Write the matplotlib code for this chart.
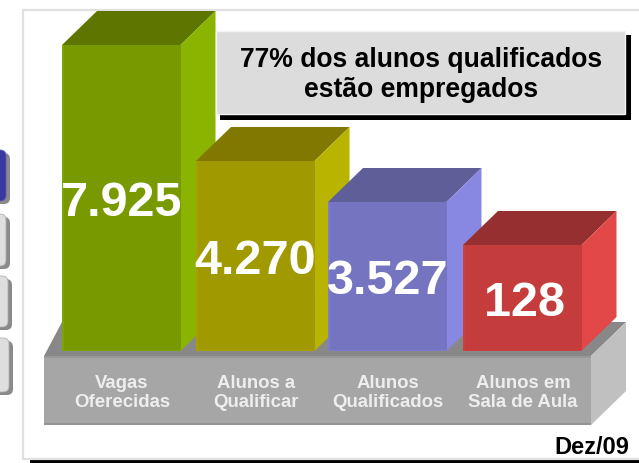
import matplotlib
matplotlib.use("Agg")
import matplotlib.pyplot as plt
from matplotlib.patches import Polygon, Rectangle, FancyBboxPatch

W, H = 639, 463
# Data
categories = ["Vagas\nOferecidas", "Alunos a\nQualificar", "Alunos\nQualificados", "Alunos em\nSala de Aula"]
value_labels = ["7.925", "4.270", "3.527", "128"]
bar_heights = [306, 190, 149, 106]      # drawn heights (not proportional)
callout = "77% dos alunos qualificados\nestão empregados"
period = "Dez/09"

# Styles
bar_left = [62, 196, 328, 463]
bar_width = 118.5
depth_x, depth_y = 35, 34
baseline = 351
face = ["#789a00", "#a09a00", "#7474c0", "#c43c3c"]
top = ["#5e7600", "#807800", "#5e5e98", "#963030"]
side = ["#8ab400", "#b8b400", "#8888e2", "#e24848"]
edge = ["#7ea400", "#a89e00", "#7c7ccc", "#cc4040"]
label_y = [203, 261, 281, 303]
label_x_shift = [0, 0, 0, 2]
label_fs = 35
cat_x = [122, 256, 388, 523]
FONT = "Liberation Sans"

fig = plt.figure(figsize=(W / 100, H / 100), dpi=100, facecolor="white")
ax = fig.add_axes([0, 0, 1, 1])
ax.set_xlim(0, W)
ax.set_ylim(H, 0)
ax.axis("off")

def poly(pts, color, z=2, **kw):
    ax.add_patch(Polygon(pts, closed=True, facecolor=color, edgecolor="none", zorder=z, **kw))

# Left-hand cropped buttons
for y0, y1, xr, fc in [(150, 201, 6, "#3838a0"), (214, 266, 6, "#dedede"),
                       (276, 327, 8, "#dedede"), (338, 392, 9, "#dedede")]:
    ax.add_patch(FancyBboxPatch((-14, y0 + 3), xr + 18, y1 - y0, boxstyle="round,pad=0,rounding_size=6",
                                facecolor="#8a8a8a", edgecolor="none", zorder=1))
    ax.add_patch(FancyBboxPatch((-14, y0), xr + 14, y1 - y0, boxstyle="round,pad=0,rounding_size=6",
                                facecolor=fc, edgecolor="#b0b0b0" if fc != "#3838a0" else "#5a5ab8",
                                linewidth=0.6, zorder=1.5))

# Frame and its shadow
ax.add_patch(Rectangle((30, 460), W - 30, 5, facecolor="#000000", edgecolor="none", zorder=0.5))
ax.add_patch(Rectangle((23, 10), W + 20, 449, facecolor="white", edgecolor="#e0e0e0", linewidth=1.6, zorder=1))

# Plinth
bx0, bx1, by0, by1 = 44, 591, 356, 425
dx, dy = 35, 34
poly([(bx0, by0), (bx0 + 18, by0 - dy), (bx1 + dx, by0 - dy), (bx1, by0)], "#888888")
poly([(bx1, by0), (bx1 + dx, by0 - dy), (bx1 + dx, by1 - dy), (bx1, by1)], "#c0c0c0")
ax.add_patch(Rectangle((bx0, by0), bx1 - bx0, by1 - by0, facecolor="#a6a6a6", edgecolor="none", zorder=2))
ax.add_patch(Rectangle((bx0, by1 - 2.5), bx1 - bx0, 2.5, facecolor="#949494", edgecolor="none", zorder=2.1))
ax.add_patch(Rectangle((bx0, by0), bx1 - bx0, 1.5, facecolor="#989898", edgecolor="none", zorder=2.1))

# Bars, drawn back to front
for i in range(len(bar_heights)):
    x0 = bar_left[i]
    x1 = x0 + bar_width
    yt = baseline - bar_heights[i]
    z = 3 + i
    poly([(x0, yt), (x0 + depth_x, yt - depth_y), (x1 + depth_x, yt - depth_y), (x1, yt)], top[i], z)
    poly([(x1, yt), (x1 + depth_x, yt - depth_y), (x1 + depth_x, baseline - depth_y), (x1, baseline)], side[i], z)
    ax.add_patch(Rectangle((x0, yt), bar_width, bar_heights[i], facecolor=face[i], edgecolor="none", zorder=z + 0.1))
    ax.add_patch(Rectangle((x0, yt), 1.5, bar_heights[i], facecolor=edge[i], edgecolor="none", zorder=z + 0.2))
    ax.add_patch(Rectangle((x0, baseline - 1.5), bar_width, 1.5, facecolor=edge[i], edgecolor="none", zorder=z + 0.2))
    ax.text(x0 + bar_width / 2 + label_x_shift[i], label_y[i], value_labels[i], ha="center", va="center",
            fontsize=label_fs, fontweight="bold", family=FONT, color="white", zorder=12)
    ax.text(cat_x[i], 393, categories[i], ha="center", va="center", fontsize=13.4, fontweight="bold",
            family=FONT, color="#eeeeee", linespacing=1.14, zorder=12)

# Callout, over the first bar's side
ax.add_patch(Rectangle((220, 35), 411, 85, facecolor="#000000", edgecolor="none", zorder=10))
ax.add_patch(Rectangle((215.5, 31), 409, 83, facecolor="#dcdcdc", edgecolor="#f4f4f4", linewidth=1, zorder=10.1))
ax.text(421, 75, callout, ha="center", va="center", fontsize=19.1, fontweight="bold",
        family=FONT, color="black", linespacing=1.24, zorder=12)

ax.text(629, 448, period, ha="right", va="center", fontsize=17, fontweight="bold",
        family=FONT, color="black", zorder=12)

fig.savefig("out.png", dpi=100)
